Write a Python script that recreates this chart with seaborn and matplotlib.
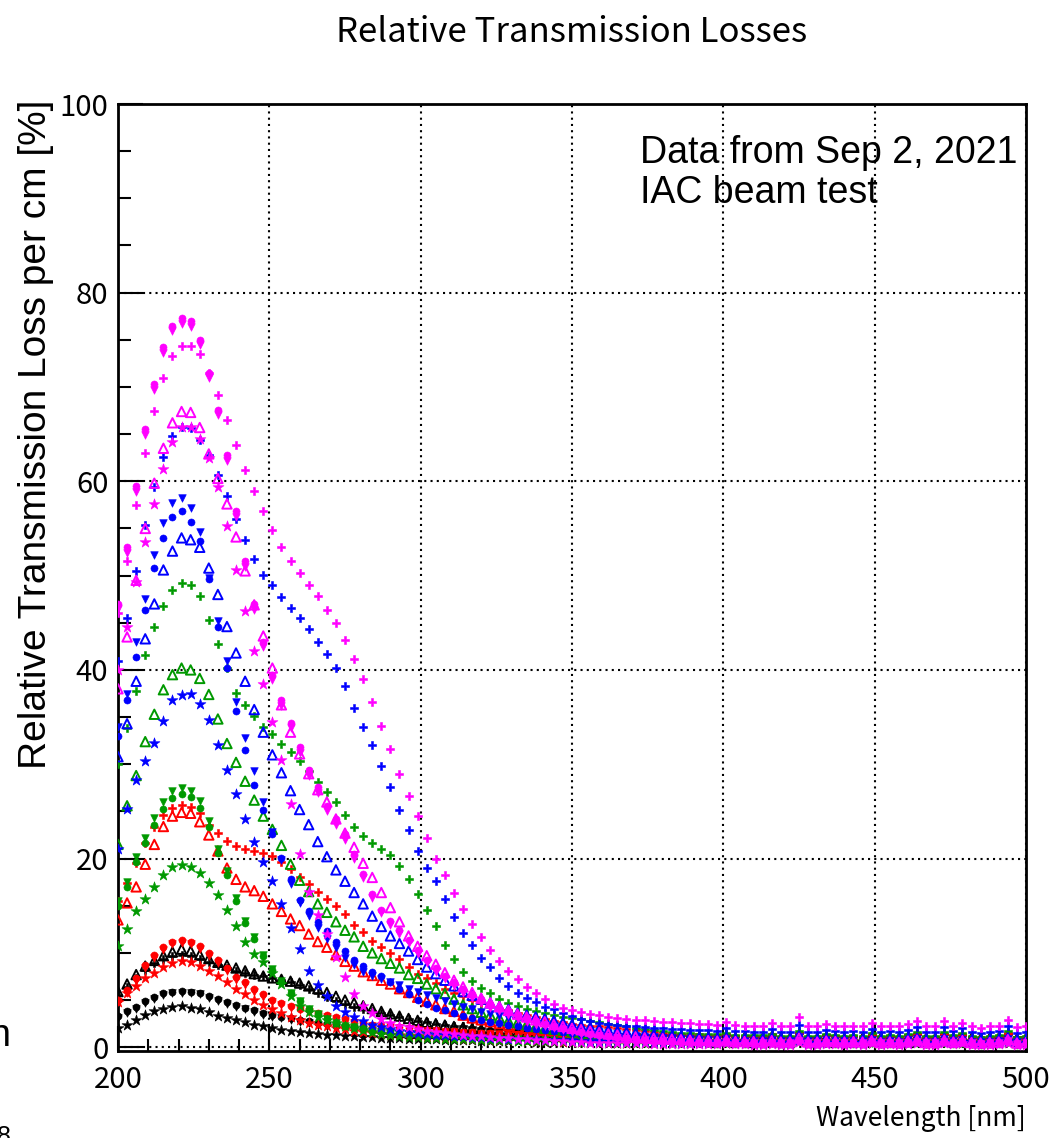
import numpy as np
import pandas as pd
import matplotlib
matplotlib.use("Agg")
import matplotlib.pyplot as plt
from matplotlib.ticker import MultipleLocator
import seaborn as sns

# ---------------- data ----------------
wavelength = np.arange(200, 501, 3)  # nm, 101 samples

mag_circle = [47.0,53.0,59.5,65.5,70.3,74.2,76.5,77.3,77.0,75.0, 71.5,67.6,62.8,56.8,51.5,47.0,43.0,39.5,36.8,34.4,
              31.8,29.4,27.6,25.6,24.2,22.6,20.5,18.4,16.2,14.6, 13.4,12.4,11.4,10.3,9.3,8.4,7.6,6.9,6.2,5.6,
              5.1,4.6,4.2,3.8,3.4,3.1,2.8,2.5,2.2,2.0, 1.8,
              1.6,1.45,1.3,1.15,1.05,0.95,0.85,0.8,0.75,0.7, 0.65,0.6,0.6,0.55,0.55,0.5,0.6,0.5,0.5,0.45,
              0.45,0.55,0.45,0.45,0.8,0.45,0.45,0.55,0.5,0.45, 0.5,0.45,0.6,0.45,0.5,0.45,0.55,0.65,0.45,0.45,
              0.65,0.5,0.6,0.45,0.4,0.45,0.5,0.7,0.4,0.45]
mag_down = [46.5,52.4,58.9,64.9,69.7,73.6,75.9,76.7,76.4,74.4, 70.9,67.0,62.2,56.2,50.9,46.4,42.4,38.9,36.2,33.8,
            31.2,28.8,27.0,25.0,23.6,22.0,20.0,17.9,15.8,14.2, 13.0,12.0,11.0,9.9,8.9,8.0,7.2,6.5,5.8,5.2,
            4.7,4.2,3.8,3.4,3.0,2.7,2.4,2.2,2.0,1.8, 1.6,
            1.45,1.3,1.2,1.05,0.95,0.85,0.8,0.75,0.7,0.65, 0.6,0.55,0.55,0.5,0.5,0.45,0.55,0.45,0.45,0.4,
            0.4,0.5,0.4,0.4,0.7,0.4,0.4,0.5,0.45,0.4, 0.45,0.4,0.55,0.4,0.45,0.4,0.5,0.6,0.4,0.4,
            0.6,0.45,0.55,0.4,0.35,0.4,0.45,0.65,0.35,0.4]
mag_plus = [46.0,51.5,57.5,63.0,67.5,71.0,73.3,74.3,74.3,73.5, 71.5,69.2,66.5,63.8,61.2,59.0,56.8,54.8,53.0,51.6,
            50.3,49.0,47.8,46.4,45.0,43.2,41.2,39.0,36.6,34.1, 31.6,29.0,26.6,24.5,22.2,20.0,18.3,16.4,14.7,13.1,
            11.7,10.3,9.1,8.1,7.2,6.4,5.7,5.1,4.6,4.2, 3.9,
            3.7,3.5,3.4,3.2,3.1,3.0,2.9,2.85,2.8,2.7, 2.7,2.6,2.6,2.5,2.5,2.4,2.7,2.4,2.3,2.3,
            2.3,2.6,2.2,2.3,3.2,2.2,2.2,2.5,2.3,2.2, 2.3,2.2,2.6,2.2,2.3,2.2,2.5,2.8,2.2,2.2,
            2.8,2.3,2.6,2.2,2.0,2.2,2.3,2.9,2.1,2.3]
mag_tri = [38.0,43.5,49.5,55.0,59.8,63.5,66.2,67.4,67.3,65.7, 62.9,60.3,57.6,54.1,50.5,46.9,43.6,40.2,36.3,33.4,
           31.1,29.0,27.3,26.0,24.2,22.7,21.2,19.5,18.0,16.4, 14.8,13.3,11.8,10.7,9.7,8.8,7.9,7.1,6.4,5.8,
           5.2,4.7,4.3,3.9,3.5,3.2,2.9,2.7,2.4,2.2, 2.0,
           1.85,1.7,1.55,1.4,1.3,1.2,1.1,1.0,0.95,0.9, 0.85,0.8,0.75,0.7,0.7,0.65,0.75,0.6,0.6,0.6,
           0.55,0.7,0.55,0.55,0.95,0.55,0.55,0.65,0.6,0.55, 0.6,0.55,0.7,0.5,0.55,0.5,0.65,0.75,0.5,0.5,
           0.75,0.55,0.7,0.5,0.45,0.5,0.55,0.8,0.45,0.5]
mag_star = [40.0,44.5,49.3,53.6,57.6,61.3,64.2,65.8,65.8,64.5, 62.5,59.4,55.3,50.6,46.3,42.0,38.5,34.5,30.4,25.8,
            20.5,16.5,14.0,12.0,9.6,7.4,5.6,4.4,3.6,3.0, 2.6,2.3,2.1,1.9,1.75,1.6,1.5,1.4,1.3,1.2,
            1.15,1.1,1.0,0.95,0.9,0.85,0.8,0.75,0.7,0.65, 0.6,
            0.55,0.5,0.5,0.45,0.45,0.4,0.4,0.4,0.35,0.35, 0.35,0.3,0.3,0.3,0.3,0.3,0.4,0.3,0.3,0.25,
            0.25,0.35,0.25,0.25,0.55,0.25,0.25,0.35,0.3,0.25, 0.3,0.25,0.4,0.25,0.3,0.25,0.35,0.45,0.25,0.25,
            0.45,0.3,0.4,0.25,0.2,0.25,0.3,0.5,0.2,0.25]

blue_plus = [41.0,45.5,50.5,55.4,59.4,62.6,64.8,65.8,65.6,64.4, 62.8,60.7,58.4,56.0,53.8,51.8,50.1,49.0,47.7,46.6,
             45.5,44.3,43.0,41.7,40.2,38.3,36.0,34.0,32.0,29.8, 27.6,25.2,23.0,20.8,19.0,17.6,15.7,13.8,12.1,10.8,
             9.5,8.5,7.3,6.5,5.8,5.2,4.8,4.3,4.0,3.6, 3.3,
             3.0,2.8,2.6,2.5,2.4,2.3,2.2,2.1,2.05,2.0, 1.95,1.9,1.85,1.8,1.8,1.75,2.0,1.7,1.7,1.65,
             1.65,1.9,1.6,1.65,2.4,1.6,1.6,1.85,1.7,1.6, 1.7,1.6,1.95,1.6,1.7,1.6,1.85,2.1,1.6,1.6,
             2.1,1.7,2.0,1.6,1.5,1.6,1.7,2.3,1.5,1.65]
blue_down = [34.0,37.5,43.0,47.5,52.2,55.6,57.7,58.2,57.2,54.6, 49.8,45.2,41.0,36.6,32.8,29.3,26.0,22.8,19.8,17.3,
             15.3,13.9,12.6,11.5,10.5,9.5,8.7,8.0,7.6,7.2, 6.9,6.6,6.2,5.9,5.5,5.2,4.9,4.6,4.3,4.0,
             3.7,3.5,3.3,3.1,2.9,2.7,2.5,2.35,2.2,2.1, 2.0,
             1.85,1.7,1.6,1.5,1.4,1.3,1.2,1.1,1.05,1.0, 0.95,0.9,0.85,0.8,0.8,0.75,0.85,0.7,0.7,0.7,
             0.65,0.8,0.65,0.65,1.05,0.65,0.65,0.75,0.7,0.65, 0.7,0.65,0.8,0.6,0.65,0.6,0.75,0.85,0.6,0.6,
             0.85,0.65,0.8,0.6,0.55,0.6,0.65,0.9,0.55,0.6]
blue_circle = [33.0,36.8,41.4,46.4,50.8,54.0,56.2,56.8,55.7,53.7, 49.6,44.5,40.2,35.6,31.5,27.8,25.2,22.6,20.1,17.8,
               15.6,14.4,13.3,12.3,11.2,10.2,9.3,8.6,8.0,7.5, 6.9,6.2,5.6,5.0,4.6,4.2,3.9,3.6,3.3,3.1,
               2.9,2.7,2.6,2.4,2.2,2.0,1.9,1.8,1.7,1.6, 1.5,
               1.4,1.3,1.2,1.1,1.05,1.0,0.95,0.9,0.85,0.8, 0.8,0.75,0.7,0.7,0.65,0.65,0.75,0.6,0.6,0.6,
               0.55,0.7,0.55,0.55,0.95,0.55,0.55,0.65,0.6,0.55, 0.6,0.55,0.7,0.55,0.6,0.55,0.65,0.75,0.55,0.55,
               0.75,0.6,0.7,0.55,0.5,0.55,0.6,0.8,0.5,0.55]
blue_tri = [30.8,34.3,38.8,43.3,47.0,50.6,52.6,54.0,53.8,53.0, 50.8,48.0,44.6,41.8,38.8,35.8,33.4,31.0,29.1,27.2,
            25.2,23.6,21.8,20.2,18.8,17.6,16.4,15.2,13.9,12.8, 11.8,11.0,10.2,9.3,8.5,7.8,7.1,6.5,5.9,5.5,
            5.1,4.7,4.3,4.0,3.6,3.4,3.2,3.0,2.8,2.6, 2.4,
            2.25,2.1,1.95,1.8,1.7,1.6,1.5,1.4,1.3,1.2, 1.15,1.1,1.05,1.0,0.95,0.9,1.0,0.85,0.85,0.8,
            0.8,0.95,0.75,0.75,1.2,0.75,0.75,0.85,0.8,0.75, 0.8,0.75,0.9,0.7,0.75,0.7,0.85,0.95,0.7,0.7,
            0.95,0.75,0.9,0.7,0.65,0.7,0.75,1.0,0.65,0.7]
blue_star = [21.0,25.3,28.3,30.3,32.3,34.6,36.8,37.3,37.4,36.4, 34.7,32.0,29.4,26.8,24.2,21.8,19.6,17.6,15.2,12.6,
             10.4,8.1,6.6,5.4,4.4,3.7,3.2,2.8,2.4,2.1, 1.9,1.7,1.6,1.5,1.4,1.3,1.25,1.2,1.15,1.1,
             1.05,1.0,0.95,0.9,0.9,0.85,0.85,0.8,0.8,0.75, 0.75,
             0.7,0.7,0.65,0.65,0.6,0.6,0.6,0.55,0.55,0.55, 0.5,0.5,0.5,0.5,0.5,0.45,0.55,0.45,0.45,0.45,
             0.45,0.55,0.45,0.45,0.75,0.45,0.45,0.5,0.45,0.45, 0.45,0.4,0.55,0.4,0.45,0.4,0.5,0.6,0.4,0.4,
             0.6,0.45,0.55,0.4,0.35,0.4,0.45,0.65,0.35,0.4]

green_plus = [30.0,33.8,37.8,41.6,44.5,46.8,48.5,49.2,49.0,47.8, 45.3,42.8,40.2,37.6,36.3,35.1,34.0,33.2,32.2,31.3,
              30.3,29.3,28.1,27.1,26.0,24.6,23.3,22.4,21.6,21.0, 20.4,19.2,17.8,16.2,14.6,12.8,10.8,9.4,8.0,7.0,
              6.3,5.8,5.1,4.7,4.4,4.1,3.8,3.6,3.4,3.25, 3.1,
              2.95,2.8,2.65,2.5,2.35,2.2,2.05,1.9,1.8,1.7, 1.6,1.55,1.5,1.45,1.4,1.35,1.55,1.3,1.3,1.25,
              1.25,1.45,1.2,1.2,1.75,1.2,1.2,1.4,1.3,1.2, 1.3,1.2,1.5,1.2,1.3,1.2,1.4,1.6,1.2,1.2,
              1.6,1.3,1.5,1.2,1.1,1.2,1.3,1.7,1.1,1.2]
green_tri = [21.5,25.6,28.8,32.4,35.3,37.9,39.5,40.2,40.0,39.1, 37.4,34.8,32.2,30.2,28.2,26.2,24.5,23.1,21.4,19.4,
             17.7,16.5,15.2,14.3,13.3,12.4,11.7,10.7,10.0,9.4, 8.9,8.4,7.7,7.3,6.7,6.2,5.7,5.1,4.5,4.1,
             3.7,3.4,3.1,2.8,2.6,2.4,2.2,2.0,1.9,1.8, 1.7,
             1.6,1.5,1.4,1.3,1.2,1.15,1.1,1.0,0.95,0.9, 0.85,0.8,0.8,0.75,0.75,0.7,0.8,0.65,0.65,0.65,
             0.6,0.75,0.6,0.6,1.0,0.6,0.6,0.7,0.65,0.6, 0.65,0.6,0.75,0.55,0.6,0.55,0.7,0.8,0.55,0.55,
             0.8,0.6,0.75,0.55,0.5,0.55,0.6,0.85,0.5,0.55]
green_down = [15.5,17.5,20.2,22.2,24.3,26.0,27.2,27.5,27.2,26.1, 24.0,21.0,18.7,15.8,13.4,11.7,9.8,8.3,7.0,5.8,
              4.9,4.1,3.5,3.0,2.6,2.3,2.1,1.9,1.75,1.6, 1.5,1.4,1.35,1.3,1.25,1.2,1.15,1.1,1.05,1.0,
              0.95,0.9,0.9,0.85,0.85,0.8,0.8,0.75,0.75,0.7, 0.7,
              0.65,0.65,0.6,0.6,0.55,0.55,0.55,0.5,0.5,0.5, 0.45,0.45,0.45,0.45,0.45,0.4,0.5,0.4,0.4,0.4,
              0.4,0.5,0.4,0.4,0.7,0.4,0.4,0.45,0.4,0.4, 0.4,0.4,0.5,0.35,0.4,0.35,0.45,0.55,0.35,0.35,
              0.55,0.4,0.5,0.35,0.3,0.35,0.4,0.6,0.3,0.35]
green_circle = [15.0,17.0,19.6,21.6,23.6,25.3,26.4,26.8,26.5,25.4, 23.4,20.6,18.3,15.5,13.2,11.5,9.7,8.2,6.9,5.8,
                4.9,4.1,3.5,3.0,2.6,2.3,2.1,1.9,1.75,1.6, 1.5,1.4,1.35,1.3,1.25,1.2,1.15,1.1,1.05,1.0,
                0.95,0.9,0.9,0.85,0.85,0.8,0.8,0.75,0.75,0.7, 0.7,
                0.6,0.6,0.55,0.55,0.5,0.5,0.5,0.45,0.45,0.45, 0.4,0.4,0.4,0.4,0.4,0.35,0.45,0.35,0.35,0.35,
                0.35,0.45,0.35,0.35,0.65,0.35,0.35,0.4,0.35,0.35, 0.35,0.35,0.45,0.3,0.35,0.3,0.4,0.5,0.3,0.3,
                0.5,0.35,0.45,0.3,0.25,0.3,0.35,0.55,0.25,0.3]
green_star = [10.7,12.5,14.4,15.7,17.0,18.3,19.1,19.3,19.1,18.5, 17.4,16.1,14.6,12.8,11.2,9.9,9.0,7.9,6.7,5.4,
              4.4,3.7,3.2,2.9,2.6,2.3,2.0,1.8,1.6,1.4, 1.25,1.15,1.1,1.05,1.0,0.95,0.9,0.9,0.85,0.85,
              0.8,0.8,0.75,0.75,0.7,0.7,0.7,0.65,0.65,0.65, 0.6,
              0.6,0.55,0.55,0.55,0.5,0.5,0.5,0.5,0.45,0.45, 0.45,0.45,0.4,0.4,0.4,0.4,0.5,0.4,0.4,0.35,
              0.35,0.45,0.35,0.35,0.65,0.35,0.35,0.45,0.4,0.35, 0.4,0.35,0.5,0.35,0.4,0.35,0.45,0.55,0.35,0.35,
              0.55,0.4,0.5,0.35,0.3,0.35,0.4,0.6,0.3,0.35]

red_plus = [15.5,17.4,19.5,21.6,23.3,24.6,25.4,25.7,25.5,24.8, 23.6,22.7,21.9,21.3,21.0,20.8,20.6,20.3,19.6,18.9,
            18.1,17.3,16.5,15.7,15.0,14.1,13.0,12.2,11.3,10.6, 10.0,9.4,8.5,7.8,7.3,6.8,6.2,5.8,5.4,5.0,
            4.7,4.4,4.1,3.9,3.6,3.4,3.2,3.0,2.8,2.7, 2.5,
            2.4,2.3,2.2,2.1,2.0,1.9,1.8,1.7,1.6,1.55, 1.5,1.45,1.4,1.35,1.3,1.25,1.45,1.2,1.2,1.2,
            1.15,1.35,1.1,1.1,1.55,1.1,1.1,1.3,1.2,1.1, 1.2,1.1,1.35,1.1,1.2,1.1,1.3,1.45,1.1,1.1,
            1.45,1.2,1.4,1.1,1.0,1.1,1.2,1.55,1.0,1.1]
red_tri = [13.5,15.3,17.0,19.4,21.5,23.4,24.5,24.9,24.8,23.9, 22.5,20.8,19.0,17.8,17.0,16.6,16.0,15.2,14.4,13.6,
           12.9,12.0,11.2,10.6,9.8,9.1,8.6,8.0,7.6,7.1, 6.7,6.2,5.8,5.3,4.9,4.5,4.1,3.8,3.4,3.1,
           2.9,2.7,2.5,2.3,2.1,2.0,1.9,1.8,1.7,1.6, 1.5,
           1.45,1.4,1.35,1.3,1.25,1.2,1.15,1.1,1.05,1.0, 1.0,0.95,0.95,0.9,0.9,0.85,1.0,0.85,0.85,0.8,
           0.8,0.95,0.8,0.8,1.15,0.8,0.8,0.9,0.85,0.8, 0.85,0.8,0.95,0.8,0.85,0.8,0.9,1.0,0.8,0.8,
           1.0,0.85,0.95,0.8,0.75,0.8,0.85,1.05,0.75,0.8]
red_circle = [5.0,6.1,7.3,8.7,9.8,10.6,11.2,11.4,11.2,10.7, 10.0,9.2,8.4,7.4,6.9,6.2,5.6,5.0,4.7,4.4,
              4.1,3.9,3.6,3.4,3.2,3.0,2.8,2.6,2.4,2.3, 2.2,2.1,2.0,1.9,1.85,1.8,1.75,1.7,1.65,1.6,
              1.55,1.5,1.45,1.4,1.35,1.3,1.3,1.25,1.2,1.2, 1.15,
              1.15,1.1,1.1,1.1,1.05,1.05,1.05,1.0,1.0,1.0, 1.0,1.0,0.95,0.95,0.95,0.95,1.05,0.95,0.95,0.95,
              0.9,1.05,0.9,0.9,1.25,0.9,0.9,1.0,0.95,0.9, 0.95,0.9,1.05,0.9,0.95,0.9,1.0,1.1,0.9,0.9,
              1.1,0.95,1.05,0.9,0.85,0.9,0.95,1.15,0.85,0.9]
red_down = [4.8,5.8,7.0,8.4,9.5,10.3,10.9,11.1,10.9,10.4, 9.7,8.9,8.1,7.1,6.6,5.9,5.3,4.8,4.5,4.2,
            3.9,3.7,3.4,3.2,3.0,2.8,2.6,2.4,2.3,2.2, 2.1,2.0,1.9,1.8,1.75,1.7,1.65,1.6,1.55,1.5,
            1.45,1.4,1.35,1.3,1.25,1.2,1.2,1.15,1.1,1.1, 1.05,
            1.05,1.0,1.0,1.0,0.95,0.95,0.95,0.9,0.9,0.9, 0.9,0.9,0.85,0.85,0.85,0.85,0.95,0.85,0.85,0.85,
            0.8,0.95,0.8,0.8,1.15,0.8,0.8,0.9,0.85,0.8, 0.85,0.8,0.95,0.8,0.85,0.8,0.9,1.0,0.8,0.8,
            1.0,0.85,0.95,0.8,0.75,0.8,0.85,1.05,0.75,0.8]
red_star = [4.8,5.7,6.5,7.3,7.9,8.5,8.9,9.1,9.0,8.6, 8.1,7.5,6.9,6.2,5.6,5.0,4.5,4.0,3.6,3.2,
            2.9,2.6,2.4,2.2,2.0,1.9,1.75,1.6,1.5,1.4, 1.3,1.25,1.2,1.15,1.1,1.05,1.0,0.95,0.9,0.9,
            0.85,0.8,0.8,0.75,0.75,0.7,0.7,0.65,0.65,0.6, 0.6,
            0.6,0.55,0.55,0.55,0.5,0.5,0.5,0.5,0.5,0.45, 0.45,0.45,0.45,0.45,0.45,0.4,0.5,0.4,0.4,0.4,
            0.4,0.5,0.4,0.4,0.7,0.4,0.4,0.45,0.4,0.4, 0.4,0.4,0.5,0.4,0.4,0.4,0.45,0.55,0.4,0.4,
            0.55,0.4,0.5,0.4,0.35,0.4,0.4,0.6,0.35,0.4]

black_tri = [5.9,6.7,7.7,8.6,9.2,9.7,10.1,10.4,10.2,9.8, 9.4,9.0,8.7,8.4,8.1,7.8,7.55,7.35,7.2,7.0,
             6.8,6.5,6.2,5.8,5.4,5.0,4.7,4.4,4.1,3.8, 3.55,3.3,3.05,2.85,2.65,2.5,2.35,2.2,2.1,2.0,
             1.9,1.8,1.75,1.7,1.6,1.55,1.5,1.45,1.4,1.35, 1.3,
             1.3,1.25,1.25,1.2,1.2,1.15,1.15,1.1,1.1,1.1, 1.05,1.05,1.05,1.0,1.0,1.0,1.1,1.0,1.0,0.95,
             0.95,1.1,0.95,0.95,1.3,0.95,0.95,1.05,1.0,0.95, 1.0,0.95,1.1,0.95,1.0,0.95,1.05,1.15,0.95,0.95,
             1.15,1.0,1.1,0.95,0.9,0.95,1.0,1.2,0.9,0.95]
black_plus = [5.5,6.4,7.3,8.2,8.9,9.4,9.7,9.8,9.7,9.4, 9.0,8.7,8.4,8.1,7.9,7.7,7.5,7.3,7.1,6.9,
              6.6,6.2,5.8,5.3,4.9,4.6,4.3,4.0,3.8,3.6, 3.4,3.2,3.0,2.8,2.7,2.5,2.4,2.3,2.2,2.1,
              2.0,1.95,1.9,1.85,1.8,1.75,1.7,1.65,1.6,1.55, 1.5,
              1.5,1.45,1.45,1.4,1.4,1.35,1.35,1.3,1.3,1.3, 1.25,1.25,1.2,1.2,1.2,1.15,1.3,1.15,1.15,1.1,
              1.1,1.3,1.1,1.1,1.5,1.1,1.1,1.25,1.15,1.1, 1.15,1.1,1.3,1.1,1.15,1.1,1.25,1.35,1.1,1.1,
              1.35,1.15,1.3,1.1,1.0,1.1,1.15,1.4,1.05,1.1]
black_circle = [3.3,3.8,4.3,4.9,5.3,5.7,5.9,6.0,5.9,5.8, 5.4,5.1,4.8,4.5,4.2,3.9,3.65,3.45,3.25,3.05,
                2.9,2.75,2.6,2.45,2.3,2.2,2.1,2.0,1.9,1.8, 1.7,1.6,1.5,1.45,1.4,1.35,1.3,1.25,1.2,1.15,
                1.1,1.05,1.0,1.0,0.95,0.95,0.9,0.9,0.85,0.85, 0.8,
                0.8,0.8,0.75,0.75,0.75,0.7,0.7,0.7,0.7,0.65, 0.65,0.65,0.65,0.65,0.6,0.6,0.7,0.6,0.6,0.6,
                0.6,0.7,0.6,0.6,0.9,0.6,0.6,0.65,0.6,0.6, 0.6,0.6,0.7,0.55,0.6,0.55,0.65,0.75,0.55,0.55,
                0.75,0.6,0.7,0.55,0.5,0.55,0.6,0.8,0.5,0.55]
black_down = [3.1,3.6,4.1,4.7,5.1,5.5,5.7,5.8,5.7,5.6, 5.2,4.9,4.6,4.3,4.0,3.7,3.45,3.25,3.05,2.85,
              2.7,2.55,2.4,2.25,2.1,2.0,1.9,1.8,1.7,1.6, 1.5,1.45,1.4,1.35,1.3,1.25,1.2,1.15,1.1,1.05,
              1.0,0.95,0.9,0.9,0.85,0.85,0.8,0.8,0.75,0.75, 0.7,
              0.7,0.7,0.65,0.65,0.65,0.6,0.6,0.6,0.6,0.55, 0.55,0.55,0.55,0.55,0.5,0.5,0.6,0.5,0.5,0.5,
              0.5,0.6,0.5,0.5,0.8,0.5,0.5,0.55,0.5,0.5, 0.5,0.5,0.6,0.45,0.5,0.45,0.55,0.65,0.45,0.45,
              0.65,0.5,0.6,0.45,0.4,0.45,0.5,0.7,0.4,0.45]
black_star = [2.0,2.4,2.9,3.4,3.8,4.1,4.3,4.4,4.2,4.0, 3.7,3.35,3.15,2.9,2.65,2.4,2.2,2.0,1.85,1.7,
              1.6,1.5,1.4,1.3,1.25,1.2,1.15,1.1,1.05,1.0, 0.95,0.95,0.9,0.9,0.85,0.85,0.8,0.8,0.75,0.75,
              0.7,0.7,0.7,0.65,0.65,0.65,0.6,0.6,0.6,0.6, 0.55,
              0.55,0.55,0.5,0.5,0.5,0.5,0.5,0.45,0.45,0.45, 0.45,0.45,0.45,0.4,0.4,0.4,0.5,0.4,0.4,0.4,
              0.4,0.5,0.4,0.4,0.7,0.4,0.4,0.45,0.4,0.4, 0.4,0.4,0.5,0.35,0.4,0.35,0.45,0.55,0.35,0.35,
              0.55,0.4,0.5,0.35,0.3,0.35,0.4,0.6,0.3,0.35]

# ---------------- styling ----------------
BLACK, RED, GREEN, BLUE, MAGENTA = "#000000", "#ff0000", "#009900", "#0000ff", "#ff00ff"
series = [
    (black_plus, BLACK, "P", "fill"), (black_tri, BLACK, "^", "open"), (black_circle, BLACK, "o", "fill"),
    (black_down, BLACK, "v", "fill"), (black_star, BLACK, "*", "fill"),
    (red_plus, RED, "P", "fill"), (red_tri, RED, "^", "open"), (red_circle, RED, "o", "fill"),
    (red_down, RED, "v", "fill"), (red_star, RED, "*", "fill"),
    (green_plus, GREEN, "P", "fill"), (green_tri, GREEN, "^", "open"), (green_circle, GREEN, "o", "fill"),
    (green_down, GREEN, "v", "fill"), (green_star, GREEN, "*", "fill"),
    (blue_plus, BLUE, "P", "fill"), (blue_tri, BLUE, "^", "open"), (blue_circle, BLUE, "o", "fill"),
    (blue_down, BLUE, "v", "fill"), (blue_star, BLUE, "*", "fill"),
    (mag_plus, MAGENTA, "P", "fill"), (mag_tri, MAGENTA, "^", "open"), (mag_circle, MAGENTA, "o", "fill"),
    (mag_down, MAGENTA, "v", "fill"), (mag_star, MAGENTA, "*", "fill"),
]
sizes = {"P": 36, "^": 46, "o": 26, "v": 30, "*": 68}

sns.set_theme(style="ticks")
NARROW = ["Noto Sans CJK JP", "DejaVu Sans"]
REGULAR = ["Liberation Sans", "DejaVu Sans"]
plt.rcParams["font.family"] = NARROW
plt.rcParams["text.color"] = "black"

W, H = 1061, 1138
fig = plt.figure(figsize=(W / 100, H / 100), dpi=100)
ax = fig.add_axes([118 / W, 1 - 1051 / H, (1026 - 118) / W, (1051 - 104) / H])

for vals, color, marker, kind in series:
    df = pd.DataFrame({"wl": wavelength, "loss": vals})
    if kind == "open":
        sns.scatterplot(data=df, x="wl", y="loss", ax=ax, marker=marker, s=sizes[marker],
                        facecolor="none", edgecolor=color, linewidth=1.4, legend=False, zorder=3)
    else:
        sns.scatterplot(data=df, x="wl", y="loss", ax=ax, marker=marker, s=sizes[marker],
                        color=color, edgecolor=color, linewidth=0.4, legend=False, zorder=3)

ax.set_xlim(200, 500)
ax.set_ylim(-0.4, 100)
ax.set_xticks([200, 250, 300, 350, 400, 450, 500])
ax.set_yticks([0, 20, 40, 60, 80, 100])
ax.xaxis.set_minor_locator(MultipleLocator(10))
ax.yaxis.set_minor_locator(MultipleLocator(5))
ax.tick_params(which="major", direction="in", length=18, width=1.5, labelsize=21,
               top=False, right=False, color="black", labelcolor="black")
ax.tick_params(axis="x", which="major", pad=10)
ax.tick_params(axis="y", which="major", pad=7)
ax.tick_params(which="minor", direction="in", length=9, width=1.5, top=False, right=False, color="black")
for lab in ax.get_xticklabels() + ax.get_yticklabels():
    lab.set_family(NARROW)
ax.grid(True, which="major", color="black", linestyle=(0, (1, 2)), linewidth=1.5)
ax.set_axisbelow(True)
for sp in ax.spines.values():
    sp.set_color("black")
    sp.set_linewidth(2)
ax.set_xlabel("")
ax.set_ylabel("")

fig.text(572 / W, 1 - 32 / H, "Relative Transmission Losses", ha="center", va="center",
         fontsize=25, family=NARROW, color="black")
fig.text(36 / W, 1 - 100 / H, "Relative Transmission Loss per cm [%]", rotation=90,
         ha="center", va="top", fontsize=28, family=REGULAR, color="black")
fig.text(1026 / W, 1 - 1118 / H, "Wavelength [nm]", ha="right", va="center",
         fontsize=19, family=NARROW, color="black")
fig.text(640 / W, 1 - 153 / H, "Data from Sep 2, 2021", ha="left", va="center",
         fontsize=27, family=REGULAR, color="black")
fig.text(640 / W, 1 - 193 / H, "IAC beam test", ha="left", va="center",
         fontsize=27, family=REGULAR, color="black")
# fragments of neighbouring slide text, cut by the image border as in the reference
fig.text(-11 / W, 1 - 1036 / H, "n", ha="left", va="center", fontsize=27, family=REGULAR, color="black")
fig.text(-3 / W, 1 - 1125 / H, "8", ha="left", va="top", fontsize=18, family=REGULAR, color="black")

fig.savefig("out.png", dpi=100)
